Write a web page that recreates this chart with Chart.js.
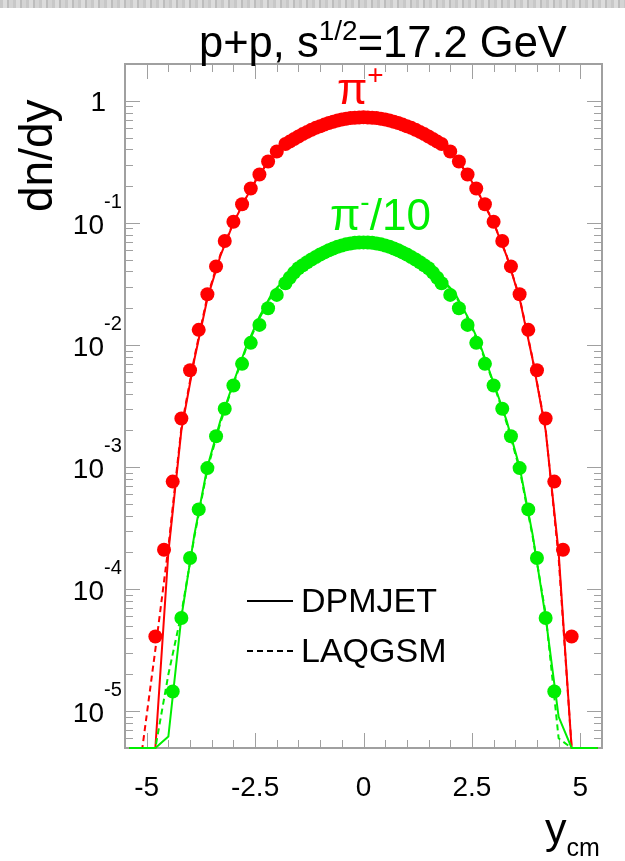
<!DOCTYPE html>
<html>
<head>
<meta charset="utf-8">
<script src="https://cdn.jsdelivr.net/npm/chart.js@4.4.1/dist/chart.umd.min.js"></script>
<style>
  html, body { margin: 0; padding: 0; background: #fff; }
  #wrap { position: relative; width: 625px; height: 861px; overflow: hidden;
          font-family: "Liberation Sans", Arial, sans-serif; color: #000; }
  #band { position: absolute; left: 0; top: 0; width: 625px; height: 8px;
          background: repeating-linear-gradient(90deg, #c8c8c8 0 3px, #dcdcdc 3px 7px, #bdbdbd 7px 9px, #d4d4d4 9px 13px); }
  canvas { position: absolute; left: 0; top: 0; }
  .t { position: absolute; white-space: nowrap; line-height: 1; }
  .sup { position: relative; }
</style>
</head>
<body>
<div id="wrap">
  <div id="band"></div>
  <canvas id="chart" width="625" height="861"></canvas>

  <div class="t" style="left:199px; top:21px; font-size:43.5px;">p+p, s<span class="sup" style="font-size:28px; top:-17px;">1/2</span>=17.2 GeV</div>
  <div class="t" style="left:13px; top:212px; font-size:46px; transform:rotate(-90deg); transform-origin:0 0;">dn/dy</div>
  <div class="t" style="left:545px; top:807px; font-size:43px;">y<span class="sup" style="font-size:25px; top:13px;">cm</span></div>

  <div class="t" style="left:337px; top:67px; font-size:44px; color:#ff0000;">π<span class="sup" style="font-size:28px; top:-20px;">+</span></div>
  <div class="t" style="left:330px; top:193px; font-size:44px; color:#00ee00;">π<span class="sup" style="font-size:28px; top:-19px;">-</span>/10</div>

  <div class="t" style="left:301px; top:583px; font-size:34px;">DPMJET</div>
  <div class="t" style="left:301px; top:633px; font-size:34px;">LAQGSM</div>
</div>

<script>
// pi+ data points
const xRedPts = [-4.8, -4.6, -4.4, -4.2, -4.0, -3.8, -3.6, -3.4, -3.2, -3.0, -2.8, -2.6, -2.4, -2.2, -2.0,
  -1.8, -1.7, -1.6, -1.5, -1.4, -1.3, -1.2, -1.1, -1.0, -0.9, -0.8, -0.7, -0.6, -0.5, -0.4, -0.3, -0.2, -0.1,
  0,
  0.1, 0.2, 0.3, 0.4, 0.5, 0.6, 0.7, 0.8, 0.9, 1.0, 1.1, 1.2, 1.3, 1.4, 1.5, 1.6, 1.7, 1.8,
  2.0, 2.2, 2.4, 2.6, 2.8, 3.0, 3.2, 3.4, 3.6, 3.8, 4.0, 4.2, 4.4, 4.6, 4.8];
const piPlus = [4.1e-5, 2.1e-4, 7.6e-4, 2.5e-3, 6.2e-3, 0.0133, 0.026, 0.044, 0.071, 0.102, 0.142, 0.191, 0.249, 0.318, 0.384,
  0.443, 0.463, 0.486, 0.509, 0.533, 0.556, 0.579, 0.600, 0.619, 0.638, 0.658, 0.674, 0.689, 0.702, 0.713, 0.721, 0.726, 0.730,
  0.731,
  0.730, 0.726, 0.721, 0.713, 0.702, 0.689, 0.674, 0.658, 0.638, 0.619, 0.600, 0.579, 0.556, 0.533, 0.509, 0.486, 0.463, 0.443,
  0.384, 0.318, 0.249, 0.191, 0.142, 0.102, 0.071, 0.044, 0.026, 0.0133, 6.2e-3, 2.5e-3, 7.6e-4, 2.1e-4, 4.1e-5];

// pi-/10 data points
const xGreenPts = [-4.4, -4.2, -4.0, -3.8, -3.6, -3.4, -3.2, -3.0, -2.8, -2.6, -2.4, -2.2, -2.0,
  -1.8, -1.7, -1.6, -1.5, -1.4, -1.3, -1.2, -1.1, -1.0, -0.9, -0.8, -0.7, -0.6, -0.5, -0.4, -0.3, -0.2, -0.1,
  0,
  0.1, 0.2, 0.3, 0.4, 0.5, 0.6, 0.7, 0.8, 0.9, 1.0, 1.1, 1.2, 1.3, 1.4, 1.5, 1.6, 1.7, 1.8,
  2.0, 2.2, 2.4, 2.6, 2.8, 3.0, 3.2, 3.4, 3.6, 3.8, 4.0, 4.2, 4.4];
const piMinus10 = [1.45e-5, 5.8e-5, 1.8e-4, 4.5e-4, 9.8e-4, 1.79e-3, 3.0e-3, 4.65e-3, 7.0e-3, 0.0104, 0.0146, 0.0200, 0.0257,
  0.0320, 0.0355, 0.0391, 0.0425, 0.0450, 0.0476, 0.0501, 0.0525, 0.0550, 0.0573, 0.0596, 0.0617, 0.0637, 0.0653, 0.0667, 0.0678, 0.0686, 0.0690,
  0.0692,
  0.0690, 0.0686, 0.0678, 0.0667, 0.0653, 0.0637, 0.0617, 0.0596, 0.0573, 0.0550, 0.0525, 0.0501, 0.0476, 0.0450, 0.0425, 0.0391, 0.0355, 0.0320,
  0.0257, 0.0200, 0.0146, 0.0104, 7.0e-3, 4.65e-3, 3.0e-3, 1.79e-3, 9.8e-4, 4.5e-4, 1.8e-4, 5.8e-5, 1.45e-5];

// model curves (values at the axis floor sit on the frame, like empty bins)
const xModel = [-5.4, -5.1, -4.8, -4.5, -4.2, -3.9, -3.6, -3.3, -3.0, -2.7, -2.4, -2.1, -1.8, -1.5, -1.2, -0.9, -0.6, -0.3,
  0, 0.3, 0.6, 0.9, 1.2, 1.5, 1.8, 2.1, 2.4, 2.7, 3.0, 3.3, 3.6, 3.9, 4.2, 4.5, 4.8, 5.1, 5.4];
const redDpmjet = [5e-6, 5e-6, 5e-6, 2.0e-4, 2.0e-3, 7.6e-3, 0.024, 0.0537, 0.100, 0.162, 0.251, 0.347, 0.437, 0.513, 0.582, 0.646, 0.692, 0.724,
  0.741, 0.724, 0.692, 0.646, 0.582, 0.513, 0.437, 0.347, 0.251, 0.162, 0.100, 0.0537, 0.024, 7.6e-3, 2.0e-3, 2.0e-4, 5e-6, 5e-6, 5e-6];
const redLaqgsm = [5e-6, 5e-6, 3.2e-5, 2.2e-4, 2.1e-3, 7.9e-3, 0.025, 0.055, 0.101, 0.163, 0.252, 0.345, 0.433, 0.510, 0.580, 0.645, 0.693, 0.726,
  0.744, 0.727, 0.694, 0.646, 0.581, 0.511, 0.434, 0.346, 0.253, 0.164, 0.101, 0.054, 0.0245, 7.7e-3, 2.05e-3, 1.8e-4, 5e-6, 5e-6, 5e-6];
const greenDpmjet = [5e-6, 5e-6, 5e-6, 6.2e-6, 5.9e-5, 2.8e-4, 1.0e-3, 2.4e-3, 4.9e-3, 9.8e-3, 0.0170, 0.0268, 0.0350, 0.0452, 0.0528, 0.0590, 0.0646, 0.0684,
  0.0700, 0.0684, 0.0646, 0.0590, 0.0528, 0.0452, 0.0350, 0.0268, 0.0170, 9.8e-3, 4.9e-3, 2.4e-3, 1.0e-3, 2.8e-4, 5.9e-5, 9.0e-6, 5e-6, 5e-6, 5e-6];
const greenLaqgsm = [5e-6, 5e-6, 5e-6, 2.0e-5, 6.3e-5, 2.7e-4, 9.6e-4, 2.3e-3, 4.8e-3, 9.5e-3, 0.0165, 0.0262, 0.0345, 0.0448, 0.0525, 0.0587, 0.0643, 0.0681,
  0.0697, 0.0681, 0.0643, 0.0587, 0.0525, 0.0448, 0.0345, 0.0262, 0.0165, 9.5e-3, 4.8e-3, 2.3e-3, 9.6e-4, 2.7e-4, 6.3e-5, 6.0e-6, 5e-6, 5e-6, 5e-6];

// axis ticks
const xTickValues = [-5, -2.5, 0, 2.5, 5];
const xTickLabels = ['-5', '-2.5', '0', '2.5', '5'];
const yTickExps = [0, -1, -2, -3, -4, -5];

const RED = '#ff0000';
const GREEN = '#00ee00';
const FRAME = '#a0a0a0';

const pts = (xs, ys) => xs.map((x, i) => ({ x: x, y: ys[i] }));

// ROOT-like frame with inner ticks
const frameTicks = {
  id: 'frameTicks',
  beforeDatasetsDraw(chart) {
    const { ctx, chartArea: a, scales } = chart;
    const xs = scales.x, ys = scales.y;
    ctx.save();
    ctx.strokeStyle = FRAME;
    ctx.lineWidth = 1;
    ctx.beginPath();
    for (let i = -10; i <= 10; i++) {
      const px = Math.round(xs.getPixelForValue(i * 0.5)) + 0.5;
      const len = (i % 5 === 0) ? 15 : 8;
      ctx.moveTo(px, a.bottom); ctx.lineTo(px, a.bottom - len);
      ctx.moveTo(px, a.top); ctx.lineTo(px, a.top + len);
    }
    for (let e = -6; e <= 0; e++) {
      for (let m = 1; m <= 9; m++) {
        const v = m * Math.pow(10, e);
        if (v < ys.min || v > ys.max) continue;
        const py = Math.round(ys.getPixelForValue(v)) + 0.5;
        const len = m === 1 ? 15 : 8;
        ctx.moveTo(a.left, py); ctx.lineTo(a.left + len, py);
        ctx.moveTo(a.right, py); ctx.lineTo(a.right - len, py);
      }
    }
    ctx.stroke();
    ctx.lineWidth = 2;
    ctx.strokeRect(a.left, a.top, a.right - a.left, a.bottom - a.top);
    ctx.restore();
  },
  afterDraw(chart) {
    const { ctx, scales } = chart;
    const xs = scales.x, ys = scales.y;
    ctx.save();
    ctx.fillStyle = '#000';
    ctx.font = '28px "Liberation Sans", Arial, sans-serif';
    ctx.textAlign = 'center';
    ctx.textBaseline = 'alphabetic';
    xTickValues.forEach((v, i) => {
      ctx.fillText(xTickLabels[i], xs.getPixelForValue(v), 796);
    });
    yTickExps.forEach(e => {
      const py = ys.getPixelForValue(Math.pow(10, e));
      if (e === 0) {
        ctx.font = '28px "Liberation Sans", Arial, sans-serif';
        ctx.textAlign = 'right';
        ctx.fillText('1', 106, py + 10);
      } else {
        ctx.font = '28px "Liberation Sans", Arial, sans-serif';
        ctx.textAlign = 'right';
        ctx.fillText('10', 104, py + 11);
        ctx.font = '20px "Liberation Sans", Arial, sans-serif';
        ctx.textAlign = 'left';
        ctx.fillText(String(e), 104, py - 15);
      }
    });
    // legend samples
    ctx.strokeStyle = '#000';
    ctx.lineWidth = 2;
    ctx.beginPath();
    ctx.moveTo(247, 601); ctx.lineTo(293, 601);
    ctx.stroke();
    ctx.setLineDash([6, 4]);
    ctx.beginPath();
    ctx.moveTo(247, 651); ctx.lineTo(293, 651);
    ctx.stroke();
    ctx.restore();
  }
};

const lineSet = (data, color, dashed) => ({
  data: data,
  showLine: true,
  borderColor: color,
  borderWidth: 2,
  borderDash: dashed ? [6, 4] : [],
  pointRadius: 0,
  tension: 0,
  clip: false
});
const pointSet = (data, color) => ({
  data: data,
  showLine: false,
  backgroundColor: color,
  borderWidth: 0,
  pointRadius: 7,
  pointHoverRadius: 7
});

// first dataset is drawn on top
new Chart(document.getElementById('chart').getContext('2d'), {
  type: 'scatter',
  data: {
    datasets: [
      lineSet(pts(xModel, greenDpmjet), GREEN, false),
      lineSet(pts(xModel, greenLaqgsm), GREEN, true),
      pointSet(pts(xGreenPts, piMinus10), GREEN),
      lineSet(pts(xModel, redDpmjet), RED, false),
      lineSet(pts(xModel, redLaqgsm), RED, true),
      pointSet(pts(xRedPts, piPlus), RED)
    ]
  },
  options: {
    responsive: false,
    animation: false,
    devicePixelRatio: 1,
    layout: { padding: { left: 125, right: 23, top: 64, bottom: 113 } },
    plugins: { legend: { display: false }, tooltip: { enabled: false } },
    scales: {
      x: { type: 'linear', min: -5.5, max: 5.5, display: false },
      y: { type: 'logarithmic', min: 5e-6, max: 2, display: false }
    }
  },
  plugins: [frameTicks]
});
</script>
</body>
</html>
